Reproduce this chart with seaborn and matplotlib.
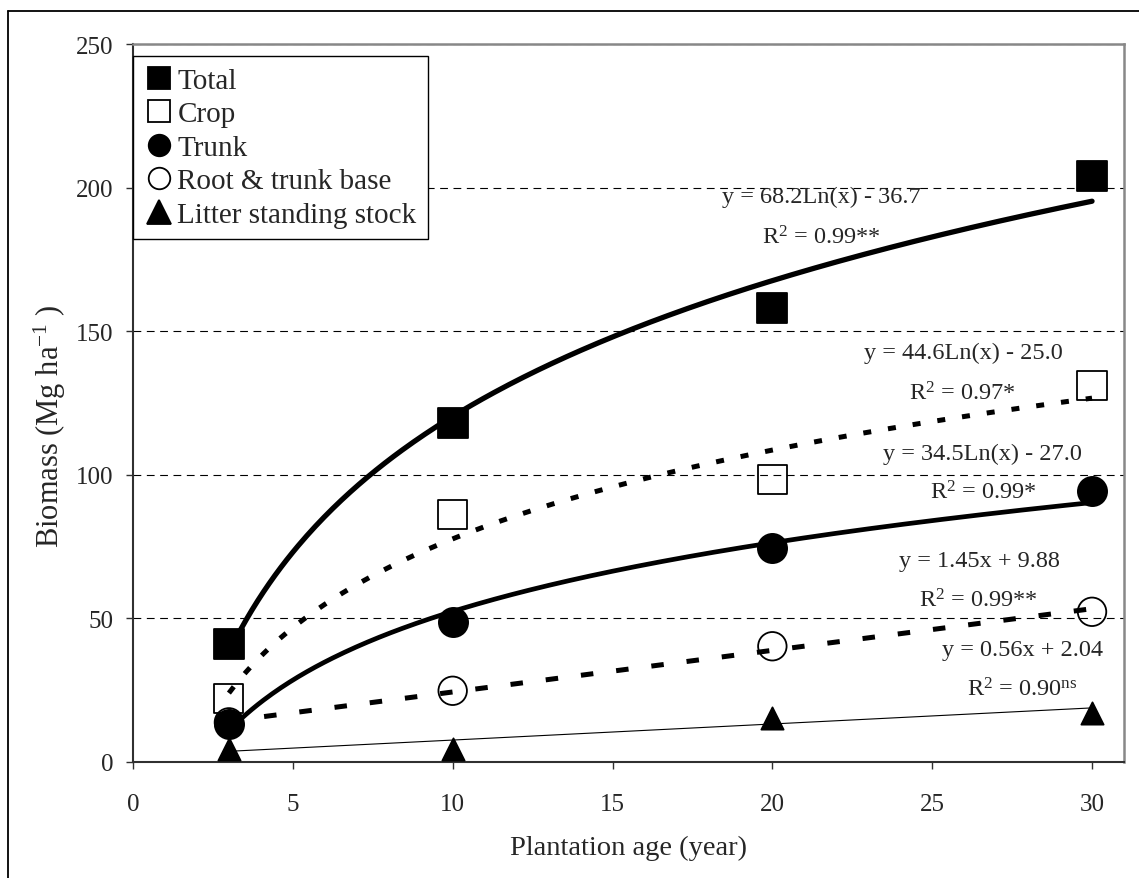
import numpy as np
import matplotlib
matplotlib.use("Agg")
import matplotlib.pyplot as plt
import seaborn as sns
from matplotlib.lines import Line2D

# Measured biomass (Mg/ha) by plantation age (years)
ages = [3, 10, 20, 30]
total = [41.0, 118.0, 158.0, 204.0]
crop = [22.0, 86.3, 98.5, 131.0]
trunk = [13.2, 48.7, 74.5, 94.5]
root = [13.8, 24.8, 40.3, 52.3]
litter = [4.5, 4.5, 15.3, 17.2]

series_names = ["Total", "Crop", "Trunk", "Root & trunk base", "Litter standing stock"]

# Fitted trend equations: kind, coefficient a, intercept b, R2 and significance
fit_kind = ["log", "log", "log", "lin", "lin"]
fit_a = [68.2, 44.6, 34.5, 1.45, 0.56]
fit_b = [-36.7, -25.0, -27.0, 9.88, 2.04]
fit_r2 = ["0.99", "0.97", "0.99", "0.99", "0.90"]
fit_sig = ["**", "*", "*", "**", "ns"]

x_ticks = [0, 5, 10, 15, 20, 25, 30]
y_ticks = [0, 50, 100, 150, 200, 250]

sns.set_theme(style="ticks")
plt.rcParams["font.family"] = ["Liberation Serif", "DejaVu Serif"]
plt.rcParams["mathtext.fontset"] = "custom"
plt.rcParams["mathtext.rm"] = "Liberation Serif"
plt.rcParams["mathtext.it"] = "Liberation Serif:italic"
plt.rcParams["mathtext.bf"] = "Liberation Serif:bold"

FS_TICK = 18
FS_EQ = 17.5
FS_XLAB = 20.5
FS_YLAB = 22
FS_LEG = 21

fig = plt.figure(figsize=(11.39, 8.79), dpi=100)
W, H = 1139, 879
ax = fig.add_axes([133 / W, 1 - 763 / H, (1124 - 133) / W, (763 - 45) / H])

# outer chart frame (top and left edges)
fig.add_artist(Line2D([8 / W, 1.0], [1 - 12 / H, 1 - 12 / H], transform=fig.transFigure,
                      color="black", lw=1.3))
fig.add_artist(Line2D([8 / W, 8 / W], [0.0, 1 - 12 / H], transform=fig.transFigure,
                      color="black", lw=1.3))

values = [total, crop, trunk, root, litter]
markers = ["s", "s", "o", "o", "^"]
filled = [True, False, True, False, True]
msize = [21.5, 21.0, 21.0, 20.5, 16.0]
line_w = [3.8, 3.6, 3.4, 3.6, 0.8]
line_style = ["-", (0, (1.6, 3.4)), "-", (0, (2.5, 4.6)), "-"]

for vals, mk, fl, ms in zip(values, markers, filled, msize):
    sns.scatterplot(x=ages, y=vals, marker=mk, s=ms ** 2, color="black",
                    edgecolor="black", linewidth=1.3, ax=ax, zorder=3, legend=False)
    if not fl:
        coll = ax.collections[-1]
        coll.set_facecolor("none")
        coll.set_edgecolor("black")

xs = np.linspace(3, 30, 300)
for kind, a, b, lw, ls in zip(fit_kind, fit_a, fit_b, line_w, line_style):
    ys = a * np.log(xs) + b if kind == "log" else a * xs + b
    sns.lineplot(x=xs, y=ys, ax=ax, color="black", lw=lw, linestyle=ls,
                 estimator=None, sort=False, zorder=4, legend=False)
    ax.lines[-1].set_dash_capstyle("butt")
    ax.lines[-1].set_solid_capstyle("round")

# equation labels
lab_x = [21.52, 25.96, 26.56, 26.48, 27.81]
lab_y = [194.9, 140.6, 105.5, 68.1, 37.4]
r2_x = [21.52, 25.93, 26.59, 26.46, 27.81]
r2_y = [180.4, 126.2, 91.6, 54.1, 23.1]
for kind, a, b, r2, sig, ex, ey, rx, ry in zip(fit_kind, fit_a, fit_b, fit_r2, fit_sig,
                                               lab_x, lab_y, r2_x, r2_y):
    sign = "-" if b < 0 else "+"
    if kind == "log":
        eq = f"y = {a:.1f}Ln(x) {sign} {abs(b):.1f}"
    else:
        eq = f"y = {a:.2f}x {sign} {abs(b):.2f}"
    ax.text(ex, ey, eq, ha="center", va="baseline", fontsize=FS_EQ, zorder=6)
    if sig == "ns":
        rt = r"R$^{2}$ = " + r2 + r"$^{\mathrm{ns}}$"
    else:
        rt = r"R$^{2}$ = " + r2 + sig
    ax.text(rx, ry, rt, ha="center", va="baseline", fontsize=FS_EQ, zorder=6)

ax.set_xlim(0, 31)
ax.set_ylim(0, 250)
ax.set_xticks(x_ticks)
ax.set_yticks(y_ticks)
ax.tick_params(direction="out", length=5, width=1, labelsize=FS_TICK, color="#303030")
ax.tick_params(axis="x", pad=17)
ax.tick_params(axis="y", pad=9)
ax.yaxis.grid(True, linestyle=(0, (7, 5)), color="black", lw=0.8)
ax.xaxis.grid(False)
ax.set_axisbelow(True)

for side in ["left", "bottom"]:
    ax.spines[side].set_color("#303030")
    ax.spines[side].set_linewidth(1.5)
for side in ["top", "right"]:
    ax.spines[side].set_visible(True)
    ax.spines[side].set_color("#888888")
    ax.spines[side].set_linewidth(1.8)

ax.set_xlabel("Plantation age (year)", fontsize=FS_XLAB)
ax.xaxis.set_label_coords((629 - 133) / 991, -(848 - 763) / 718)
ax.xaxis.label.set_verticalalignment("center")
ax.set_ylabel(r"Biomass (Mg ha$^{\mathrm{-1}}$ )", fontsize=FS_YLAB)
ax.yaxis.set_label_coords(-(133 - 50) / 991, (763 - 426) / 718)
ax.yaxis.label.set_verticalalignment("center")

handles = []
for name, mk, fl, in zip(series_names, markers, filled):
    handles.append(Line2D([], [], marker=mk, linestyle="none", color="black",
                          markerfacecolor="black" if fl else "white",
                          markeredgecolor="black", markeredgewidth=1.3,
                          markersize=15.5 if mk != "^" else 17))
leg = ax.legend(handles, series_names, loc="upper left", bbox_to_anchor=(0.0, (763 - 57) / 718),
                borderaxespad=0.0, frameon=True, fancybox=False, framealpha=1.0,
                edgecolor="black", fontsize=FS_LEG, handlelength=0.95, handletextpad=0.17,
                labelspacing=0.24, borderpad=0.4)
leg.get_frame().set_linewidth(1.0)
leg.set_zorder(10)

fig.savefig("out.png", dpi=100)
